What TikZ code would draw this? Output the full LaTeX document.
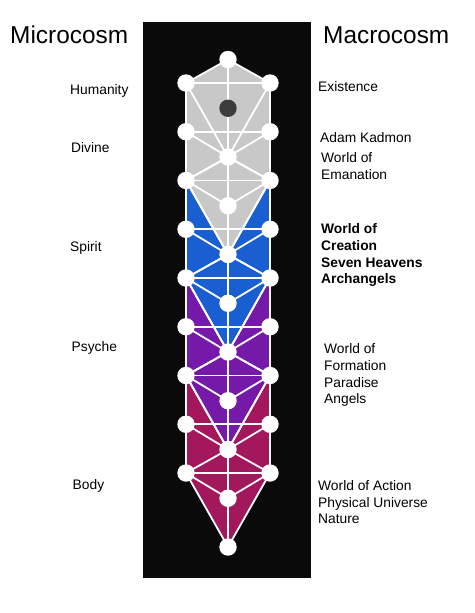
\documentclass[tikz,border=0pt]{standalone}
\usepackage{fontspec}
\setmainfont{Liberation Sans}
\definecolor{bgblack}{HTML}{0A0A0A}
\definecolor{gry}{HTML}{C8C8C8}
\definecolor{blu}{HTML}{1A5FD1}
\definecolor{purp}{HTML}{7519A8}
\definecolor{crim}{HTML}{A3175C}
\definecolor{darkdot}{HTML}{3C3C3C}
\pgfdeclarelayer{bglayer}
\pgfdeclarelayer{midlayer}
\pgfsetlayers{bglayer,midlayer,main}
\begin{document}
\begin{tikzpicture}[x=1pt,y=-1pt,
  lbl/.style={anchor=base west, inner sep=0pt, font=\fontsize{13.8}{16}\selectfont},
  lblb/.style={lbl, font=\fontsize{13.8}{16}\selectfont\bfseries},
  ttl/.style={anchor=base west, inner sep=0pt, font=\fontsize{24.4}{29}\selectfont},
  link/.style={draw=white, line width=1.8pt},
  dot/.style={circle, fill=white, minimum size=17.4pt, inner sep=0pt},
]
\useasboundingbox (0,0) rectangle (474,613);
% nodes
\foreach \k in {0,2,3,4,5,6,7,8,9,10}
  \node[dot] (c\k) at (228,{59.5+48.75*\k}) {};
\node[dot, fill=darkdot] (c1) at (228,{59.5+48.75}) {};
\foreach \j in {0,...,8} {
  \node[dot] (l\j) at (186,{83+48.75*\j}) {};
  \node[dot] (r\j) at (270,{83+48.75*\j}) {};
}
\begin{pgfonlayer}{bglayer}
  \fill[bgblack] (143,22) rectangle (311,578);
  \foreach \t/\col in {3/crim,2/purp,1/blu,0/gry} {
    \pgfmathtruncatemacro\ba{2*\t}
    \pgfmathtruncatemacro\be{2*\t+2}
    \pgfmathtruncatemacro\bg{2*\t+4}
    \fill[\col] (c\ba.center) -- (r\ba.center) -- (r\be.center) -- (c\bg.center)
      -- (l\be.center) -- (l\ba.center) -- cycle;
  }
\end{pgfonlayer}
\begin{pgfonlayer}{midlayer}
  \foreach \t in {0,1,2,3} {
    \pgfmathtruncatemacro\a{2*\t}
    \pgfmathtruncatemacro\d{2*\t+1}
    \pgfmathtruncatemacro\e{2*\t+2}
    \pgfmathtruncatemacro\f{2*\t+3}
    \pgfmathtruncatemacro\g{2*\t+4}
    \draw[link] (c\a.center) -- (r\a.center);
    \draw[link] (c\a.center) -- (l\a.center);
    \draw[link] (c\a.center) -- (c\e.center);
    \draw[link] (r\a.center) -- (l\a.center);
    \draw[link] (r\a.center) -- (c\e.center);
    \draw[link] (l\a.center) -- (c\e.center);
    \draw[link] (r\a.center) -- (r\d.center);
    \draw[link] (l\a.center) -- (l\d.center);
    \draw[link] (r\d.center) -- (l\d.center);
    \draw[link] (r\d.center) -- (c\e.center);
    \draw[link] (l\d.center) -- (c\e.center);
    \draw[link] (r\d.center) -- (r\e.center);
    \draw[link] (l\d.center) -- (l\e.center);
    \draw[link] (c\e.center) -- (r\e.center);
    \draw[link] (c\e.center) -- (l\e.center);
    \draw[link] (r\e.center) -- (l\e.center);
    \draw[link] (c\e.center) -- (c\f.center);
    \draw[link] (r\e.center) -- (c\f.center);
    \draw[link] (l\e.center) -- (c\f.center);
    \draw[link] (r\e.center) -- (c\g.center);
    \draw[link] (l\e.center) -- (c\g.center);
    \draw[link] (c\f.center) -- (c\g.center);
  }
\end{pgfonlayer}
% titles
\node[ttl] (micro) at (10,43) {Microcosm};
\node[ttl] (macro) at (323,43) {Macrocosm};
% left labels
\node[lbl] (hum) at (70,94.5) {Humanity};
\node[lbl] (div) at (71,152.5) {Divine};
\node[lbl] (spi) at (70,251.5) {Spirit};
\node[lbl] (psy) at (71.5,351.5) {Psyche};
\node[lbl] (bod) at (72.5,489.5) {Body};
% right labels
\node[lbl] (exi) at (318,91.5) {Existence};
\node[lbl] (ada) at (320,142.5) {Adam Kadmon};
\node[lbl] (ema1) at (321,162.5) {World of};
\node[lbl] (ema2) at (321,179) {Emanation};
\node[lblb] (cre1) at (321,233.5) {World of};
\node[lblb] (cre2) at (321,250.5) {Creation};
\node[lblb] (cre3) at (321,267) {Seven Heavens};
\node[lblb] (cre4) at (321,283.5) {Archangels};
\node[lbl] (for1) at (324,353.5) {World of};
\node[lbl] (for2) at (324,370) {Formation};
\node[lbl] (for3) at (324,387) {Paradise};
\node[lbl] (for4) at (324,403.5) {Angels};
\node[lbl] (act1) at (318,490) {World of Action};
\node[lbl] (act2) at (318,507) {Physical Universe};
\node[lbl] (act3) at (318,523.5) {Nature};
\end{tikzpicture}
\end{document}
